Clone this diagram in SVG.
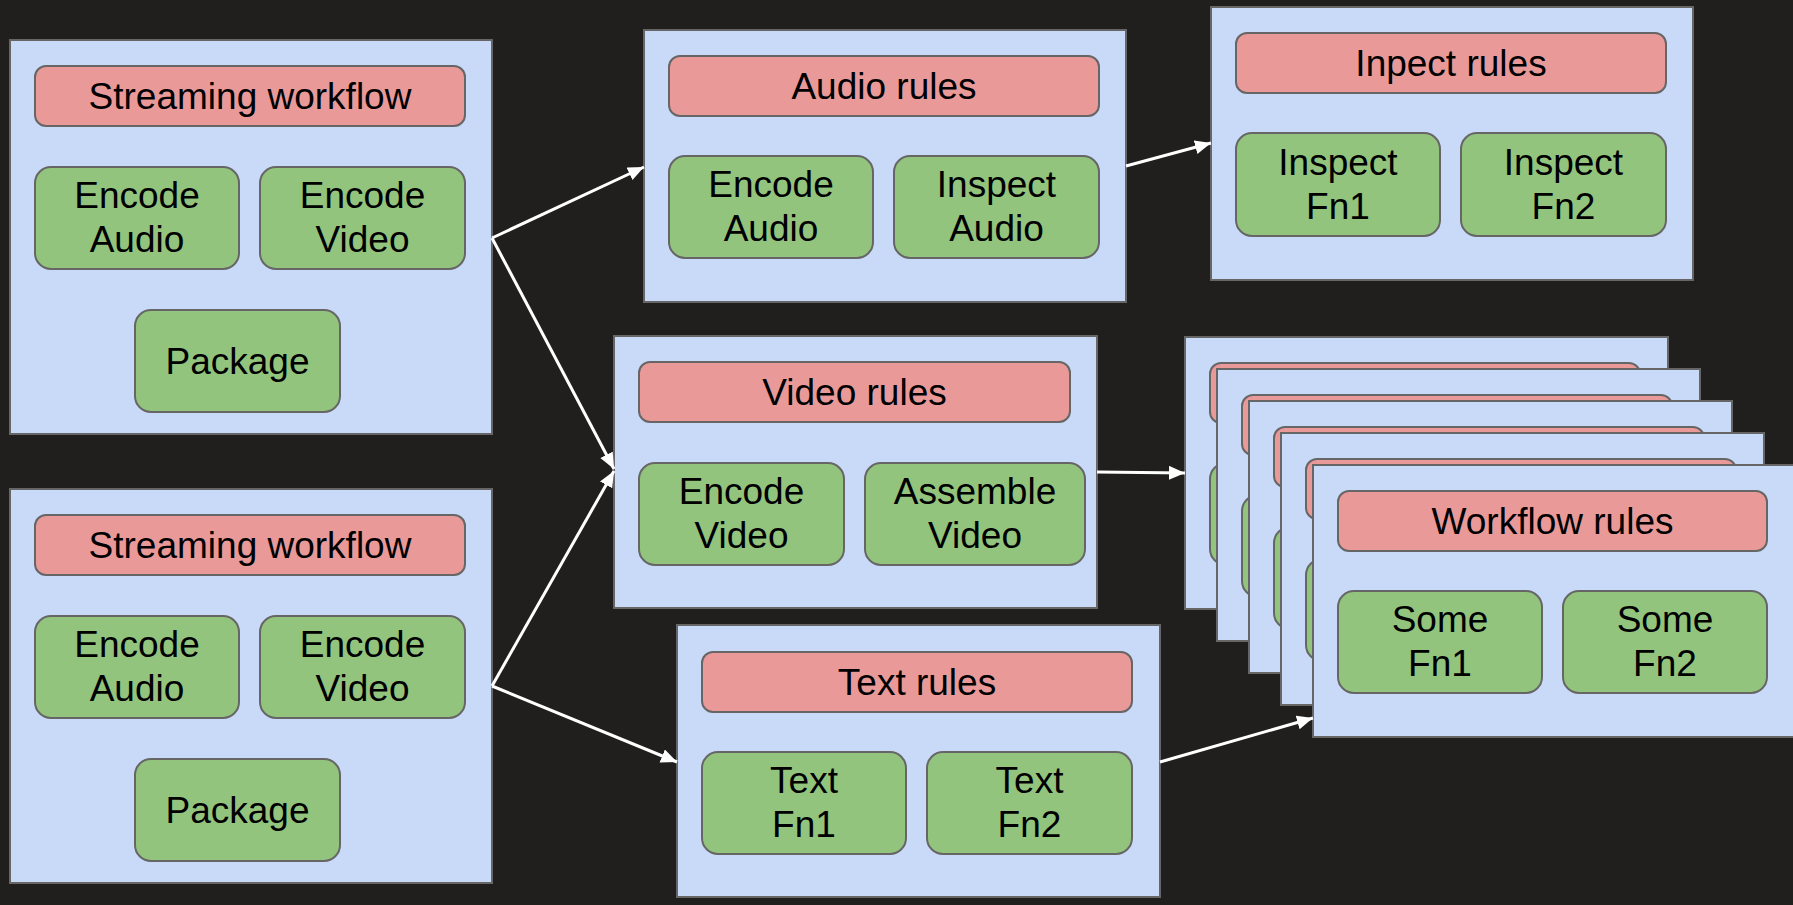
<svg xmlns="http://www.w3.org/2000/svg" width="1793" height="905" viewBox="0 0 1793 905">
<defs>
<style>
.box{fill:#c9daf8;stroke:#666666;stroke-width:2}
.ttl{fill:#ea9999;stroke:#666666;stroke-width:2}
.fn{fill:#93c47d;stroke:#666666;stroke-width:2}
text{font-family:"Liberation Sans",Arial,sans-serif;font-size:37px;fill:#000000;text-anchor:middle}
.conn{stroke:#ffffff;stroke-width:3;fill:none}
</style>
<marker id="ah" markerUnits="userSpaceOnUse" markerWidth="18" markerHeight="16" refX="16" refY="7" orient="auto">
<path d="M0,0 L16,7 L0,14 z" fill="#ffffff"/>
</marker>
</defs>
<rect x="0" y="0" width="1793" height="905" fill="#201f1e"/>

<g id="wf1">
<rect class="box" x="10" y="40" width="482" height="394"/>
<rect class="ttl" x="35" y="66" width="430" height="60" rx="11"/>
<text x="250" y="109">Streaming workflow</text>
<rect class="fn" x="35" y="167" width="204" height="102" rx="16"/>
<text x="137" y="208">Encode</text><text x="137" y="252">Audio</text>
<rect class="fn" x="260" y="167" width="205" height="102" rx="16"/>
<text x="362.5" y="208">Encode</text><text x="362.5" y="252">Video</text>
<rect class="fn" x="135" y="310" width="205" height="102" rx="16"/>
<text x="237.5" y="374">Package</text>
</g>

<g id="wf2">
<rect class="box" x="10" y="489" width="482" height="394"/>
<rect class="ttl" x="35" y="515" width="430" height="60" rx="11"/>
<text x="250" y="558">Streaming workflow</text>
<rect class="fn" x="35" y="616" width="204" height="102" rx="16"/>
<text x="137" y="657">Encode</text><text x="137" y="701">Audio</text>
<rect class="fn" x="260" y="616" width="205" height="102" rx="16"/>
<text x="362.5" y="657">Encode</text><text x="362.5" y="701">Video</text>
<rect class="fn" x="135" y="759" width="205" height="102" rx="16"/>
<text x="237.5" y="823">Package</text>
</g>

<g id="audio">
<rect class="box" x="644" y="30" width="482" height="272"/>
<rect class="ttl" x="669" y="56" width="430" height="60" rx="11"/>
<text x="884" y="99">Audio rules</text>
<rect class="fn" x="669" y="156" width="204" height="102" rx="16"/>
<text x="771" y="197">Encode</text><text x="771" y="241">Audio</text>
<rect class="fn" x="894" y="156" width="205" height="102" rx="16"/>
<text x="996.5" y="197">Inspect</text><text x="996.5" y="241">Audio</text>
</g>

<g id="inspect">
<rect class="box" x="1211" y="7" width="482" height="273"/>
<rect class="ttl" x="1236" y="33" width="430" height="60" rx="11"/>
<text x="1451" y="76">Inpect rules</text>
<rect class="fn" x="1236" y="133" width="204" height="103" rx="16"/>
<text x="1338" y="174.5">Inspect</text><text x="1338" y="219">Fn1</text>
<rect class="fn" x="1461" y="133" width="205" height="103" rx="16"/>
<text x="1563.5" y="174.5">Inspect</text><text x="1563.5" y="219">Fn2</text>
</g>

<g id="video">
<rect class="box" x="614" y="336" width="483" height="272"/>
<rect class="ttl" x="639" y="362" width="431" height="60" rx="11"/>
<text x="854.5" y="405">Video rules</text>
<rect class="fn" x="639" y="463" width="205" height="102" rx="16"/>
<text x="741.5" y="504">Encode</text><text x="741.5" y="548">Video</text>
<rect class="fn" x="865" y="463" width="220" height="102" rx="16"/>
<text x="975" y="504">Assemble</text><text x="975" y="548">Video</text>
</g>

<g id="textrules">
<rect class="box" x="677" y="625" width="483" height="272"/>
<rect class="ttl" x="702" y="652" width="430" height="60" rx="11"/>
<text x="917" y="695">Text rules</text>
<rect class="fn" x="702" y="752" width="204" height="102" rx="16"/>
<text x="804" y="793">Text</text><text x="804" y="837">Fn1</text>
<rect class="fn" x="927" y="752" width="205" height="102" rx="16"/>
<text x="1029.5" y="793">Text</text><text x="1029.5" y="837">Fn2</text>
</g>

<g id="stack1">
<rect class="box" x="1185" y="337" width="483" height="272"/>
<rect class="ttl" x="1210" y="363" width="430" height="60" rx="11"/>
<rect class="fn" x="1210" y="463" width="204" height="102" rx="16"/>
<rect class="fn" x="1435" y="463" width="204" height="102" rx="16"/>
</g>
<g id="stack2">
<rect class="box" x="1217" y="369" width="483" height="272"/>
<rect class="ttl" x="1242" y="395" width="430" height="60" rx="11"/>
<rect class="fn" x="1242" y="495" width="204" height="102" rx="16"/>
<rect class="fn" x="1467" y="495" width="204" height="102" rx="16"/>
</g>
<g id="stack3">
<rect class="box" x="1249" y="401" width="483" height="272"/>
<rect class="ttl" x="1274" y="427" width="430" height="60" rx="11"/>
<rect class="fn" x="1274" y="527" width="204" height="102" rx="16"/>
<rect class="fn" x="1499" y="527" width="204" height="102" rx="16"/>
</g>
<g id="stack4">
<rect class="box" x="1281" y="433" width="483" height="272"/>
<rect class="ttl" x="1306" y="459" width="430" height="60" rx="11"/>
<rect class="fn" x="1306" y="559" width="204" height="102" rx="16"/>
<rect class="fn" x="1531" y="559" width="204" height="102" rx="16"/>
</g>
<g id="workflow">
<rect class="box" x="1313" y="465" width="483" height="272"/>
<rect class="ttl" x="1338" y="491" width="429" height="60" rx="11"/>
<text x="1552.5" y="534">Workflow rules</text>
<rect class="fn" x="1338" y="591" width="204" height="102" rx="16"/>
<text x="1440" y="632">Some</text><text x="1440" y="676">Fn1</text>
<rect class="fn" x="1563" y="591" width="204" height="102" rx="16"/>
<text x="1665" y="632">Some</text><text x="1665" y="676">Fn2</text>
</g>

<g id="connectors">
<line class="conn" x1="492" y1="238" x2="644" y2="167" marker-end="url(#ah)"/>
<line class="conn" x1="492" y1="238" x2="614" y2="469" marker-end="url(#ah)"/>
<line class="conn" x1="492" y1="686" x2="614" y2="471" marker-end="url(#ah)"/>
<line class="conn" x1="492" y1="686" x2="677" y2="762" marker-end="url(#ah)"/>
<line class="conn" x1="1126" y1="166" x2="1211" y2="143" marker-end="url(#ah)"/>
<line class="conn" x1="1097" y1="472" x2="1185" y2="473" marker-end="url(#ah)"/>
<line class="conn" x1="1160" y1="762" x2="1313" y2="718" marker-end="url(#ah)"/>
</g>
</svg>
